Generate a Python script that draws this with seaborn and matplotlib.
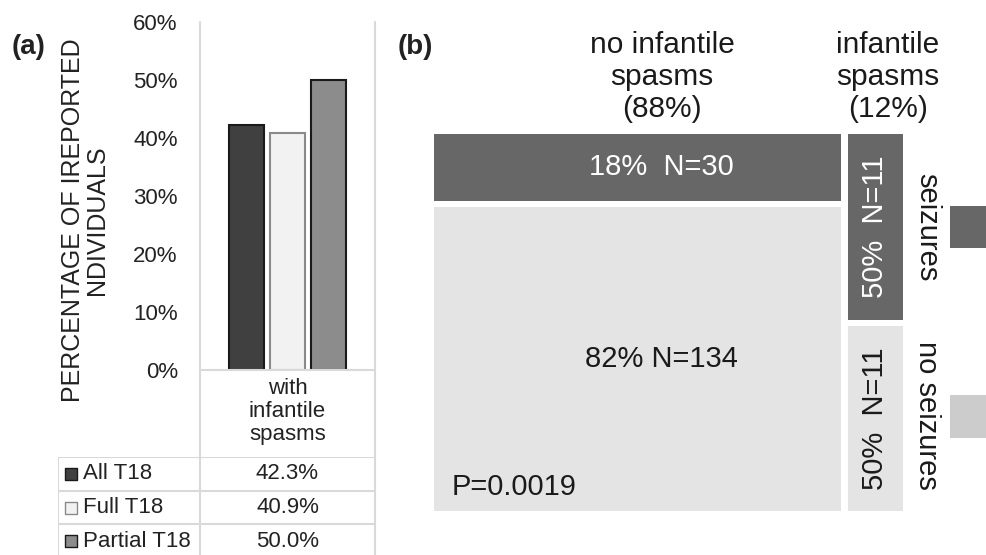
"""Bar chart plus mosaic of seizures vs infantile spasms in T18."""

import matplotlib.pyplot as plt
import pandas as pd
import seaborn as sns
from matplotlib.lines import Line2D
from matplotlib.patches import Rectangle
from matplotlib.ticker import FuncFormatter

# ---- data ----
series_names = ["All T18", "Full T18", "Partial T18"]
series_values = [42.3, 40.9, 50.0]
category = "with\ninfantile\nspasms"
bar_colors = ["#404040", "#f2f2f2", "#8c8c8c"]
bar_edges = ["#1a1a1a", "#8a8a8a", "#1a1a1a"]
y_ticks = [0, 10, 20, 30, 40, 50, 60]

col_labels = ["no infantile\nspasms\n(88%)", "infantile\nspasms\n(12%)"]
col_shares = [0.88, 0.12]
seiz_shares = [0.18, 0.50]
seiz_labels = ["18%  N=30", "50%  N=11"]
noseiz_labels = ["82% N=134", "50%  N=11"]
row_names = ["seizures", "no seizures"]
p_value = "P=0.0019"

W, H = 987, 555
DARK, LIGHT, LEGEND_LIGHT = "#676767", "#e4e4e4", "#cccccc"
GRID = "#d9d9d9"

sns.set_theme(style="white")
plt.rcParams["font.family"] = ["Liberation Sans", "DejaVu Sans"]


def px_rect(x0, y0, x1, y1):
    return [x0 / W, 1 - y1 / H, (x1 - x0) / W, (y1 - y0) / H]


fig = plt.figure(figsize=(W / 100, H / 100), dpi=100)

# ---- panel (a): bars ----
df = pd.DataFrame({"group": [category] * 3, "series": series_names, "value": series_values})
ax = fig.add_axes(px_rect(200, 22, 375, 370))
sns.barplot(data=df, x="group", y="value", hue="series", hue_order=series_names,
            palette=bar_colors, width=0.7, gap=0.15, legend=False, ax=ax)
for patch, edge in zip(ax.patches, bar_edges):
    patch.set_edgecolor(edge)
    patch.set_linewidth(1.5)
ax.set_ylim(0, 60)
ax.set_yticks(y_ticks)
ax.yaxis.set_major_formatter(FuncFormatter(lambda v, _: f"{v:.0f}%"))
ax.tick_params(axis="y", length=0, pad=16, labelsize=16, labelcolor="#222222")
ax.tick_params(axis="x", length=0, pad=6, labelsize=16, labelcolor="#222222")
for lbl in ax.get_xticklabels():
    lbl.set_linespacing(1.12)
ax.set_xlabel("")
ax.set_ylabel("")
for side in ["top", "left", "right"]:
    ax.spines[side].set_visible(False)
ax.spines["bottom"].set_color(GRID)
ax.spines["bottom"].set_linewidth(1.5)

fig.text(85 / W, 1 - 220 / H, "PERCENTAGE OF IREPORTED\nNDIVIDUALS", rotation=90,
         ha="center", va="center", fontsize=18, color="#222222", linespacing=1.05)
fig.text(12 / W, 1 - 47 / H, "(a)", fontsize=20, fontweight="bold", va="center", color="#222222")

for x in (200, 375):
    fig.add_artist(Line2D([x / W, x / W], [1 - 22 / H, 0], transform=fig.transFigure,
                          color=GRID, lw=1.5))

# table under the bars
ax_t = fig.add_axes(px_rect(58, 457, 375, 558))
ax_t.set_xlim(0, 1)
ax_t.set_ylim(len(series_names), 0)
ax_t.axis("off")
split = (200 - 58) / (375 - 58)
for i, (name, val, col, edge) in enumerate(zip(series_names, series_values, bar_colors, bar_edges)):
    ax_t.axhline(i, color=GRID, lw=1.5)
    ax_t.scatter([0.04], [i + 0.5], marker="s", s=75, color=col, edgecolor=edge, linewidth=1)
    ax_t.text(0.078, i + 0.5, name, va="center", ha="left", fontsize=16, color="#222222")
    ax_t.text((split + 1) / 2, i + 0.5, f"{val:.1f}%", va="center", ha="center",
              fontsize=16, color="#222222")
ax_t.axvline(0, color=GRID, lw=1.5)

# ---- panel (b): mosaic ----
ax_b = fig.add_axes(px_rect(434, 134, 903, 511))
ax_b.set_xlim(0, 1)
ax_b.set_ylim(1, 0)
ax_b.axis("off")
gx, gy = 7 / 469, 6 / 377
left = 0.0
for share, s_share, s_lbl, n_lbl in zip(col_shares, seiz_shares, seiz_labels, noseiz_labels):
    w = share * (1 - gx)
    h_top = s_share * (1 - gy)
    h_bot = (1 - s_share) * (1 - gy)
    ax_b.bar(left, h_top, width=w, bottom=0, align="edge", color=DARK, linewidth=0)
    ax_b.bar(left, h_bot, width=w, bottom=h_top + gy, align="edge", color=LIGHT, linewidth=0)
    narrow = share < 0.5
    tx = left + w / 2 if narrow else left + w * 0.56
    rot = 90 if narrow else 0
    ax_b.text(tx, h_top / 2, s_lbl, color="white", fontsize=21, ha="center", va="center",
              rotation=rot)
    ax_b.text(tx, h_top + gy + h_bot / 2, n_lbl, color="#1a1a1a", fontsize=21,
              ha="center", va="center", rotation=rot)
    left += w + gx

ax_b.text(0.038, 0.064, p_value, transform=ax_b.transAxes, fontsize=21, color="#1a1a1a",
          ha="left", va="center")

fig.text(398 / W, 1 - 47 / H, "(b)", fontsize=20, fontweight="bold", va="center", color="#222222")
for xc, lbl in zip([662, 888], col_labels):
    fig.text(xc / W, 1 - 77 / H, lbl, ha="center", va="center", fontsize=21.5,
             color="#1a1a1a", linespacing=1.2, multialignment="center")

for yc, name, col, (y0, y1) in zip([227, 415], row_names, [DARK, LEGEND_LIGHT],
                                   [(206, 248), (395, 438)]):
    fig.text(927 / W, 1 - yc / H, name, rotation=270, ha="center", va="center",
             fontsize=21, color="#1a1a1a")
    fig.add_artist(Rectangle((950 / W, 1 - y1 / H), 45 / W, (y1 - y0) / H,
                             transform=fig.transFigure, color=col, lw=0))

fig.savefig("out.png", dpi=100)
